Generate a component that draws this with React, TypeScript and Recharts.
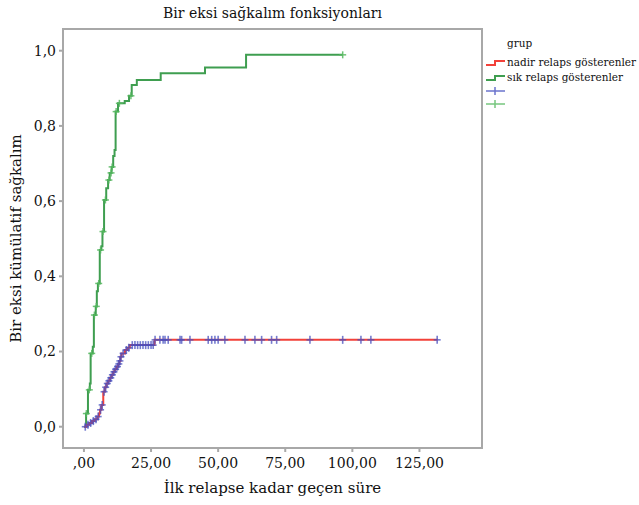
import React from 'react';
import { ComposedChart, Line, Scatter, XAxis, YAxis, ReferenceArea } from 'recharts';

const FONT = '"DejaVu Serif", serif';

// sık relaps gösterenler (green) – 1 - KM cumulative
const sikTimes = [0, 0.8, 1.5, 2.2, 2.5, 3.3, 3.7, 4.4, 4.8, 5.2, 5.9, 6.5, 6.9, 7.5, 8.3, 9.0, 9.6, 10.3, 10.9, 11.4, 11.8, 12.7, 15.2, 16.8, 17.8, 19.7, 28.6, 45.1, 60.4, 96.4];
const sikValues = [0, 0.035, 0.098, 0.115, 0.195, 0.213, 0.297, 0.32, 0.36, 0.381, 0.47, 0.48, 0.519, 0.603, 0.634, 0.656, 0.675, 0.691, 0.72, 0.736, 0.838, 0.86, 0.866, 0.88, 0.909, 0.922, 0.94, 0.955, 0.989, 0.989];
const sikCensorTimes = [0.9, 2.0, 2.9, 3.9, 4.6, 5.5, 6.2, 7.1, 8.0, 9.3, 10.1, 10.5, 12.0, 13.2, 17.5, 96.4];
const sikCensorValues = [0.035, 0.098, 0.195, 0.297, 0.32, 0.381, 0.47, 0.519, 0.603, 0.656, 0.675, 0.691, 0.838, 0.86, 0.88, 0.989];

// nadir relaps gösterenler (red)
const nadirTimes = [0, 1, 2, 3, 4, 5, 5.6, 6, 6.5, 7.2, 7.8, 8.4, 9, 9.7, 10.3, 10.9, 11.5, 12.2, 12.8, 13.2, 13.6, 14, 15.3, 16.2, 17.1, 26.3, 131.8];
const nadirValues = [0, 0.005, 0.01, 0.015, 0.02, 0.027, 0.035, 0.045, 0.058, 0.093, 0.105, 0.115, 0.122, 0.13, 0.138, 0.146, 0.153, 0.16, 0.167, 0.175, 0.186, 0.195, 0.204, 0.21, 0.217, 0.231, 0.231];
const nadirCensorTimes = [0.5, 1.5, 2.5, 3.5, 4.5, 5.3, 6.2, 6.8, 7.5, 8.1, 8.7, 9.3, 10, 10.6, 11.2, 11.8, 12.5, 13, 13.4, 13.8, 14.6, 15.8, 16.7, 18, 19, 20, 21, 22, 23, 24, 25, 25.8,
  26.5, 28.3, 29.5, 30.2, 31.4, 35.8, 36.4, 39.5, 46.3, 47.6, 48.8, 50, 52.5, 60, 63.7, 66.2, 69.9, 71.8, 84.2, 96.4, 103.2, 106.9, 131.6];
const nadirCensorValues = [0, 0.005, 0.01, 0.015, 0.02, 0.027, 0.045, 0.058, 0.093, 0.105, 0.115, 0.122, 0.13, 0.138, 0.146, 0.153, 0.16, 0.167, 0.175, 0.186, 0.195, 0.204, 0.21, 0.217, 0.217, 0.217, 0.217, 0.217, 0.217, 0.217, 0.217, 0.217,
  0.231, 0.231, 0.231, 0.231, 0.231, 0.231, 0.231, 0.231, 0.231, 0.231, 0.231, 0.231, 0.231, 0.231, 0.231, 0.231, 0.231, 0.231, 0.231, 0.231, 0.231, 0.231, 0.231];

const xTicks = [0, 25, 50, 75, 100, 125];
const xTickLabels = [',00', '25,00', '50,00', '75,00', '100,00', '125,00'];
const yTicks = [0, 0.2, 0.4, 0.6, 0.8, 1.0];
const yTickLabels = ['0,0', '0,2', '0,4', '0,6', '0,8', '1,0'];

const title = 'Bir eksi sağkalım fonksiyonları';
const xLabel = 'İlk relapse kadar geçen süre';
const yLabel = 'Bir eksi kümülatif sağkalım';
const legendTitle = 'grup';
const groupNames = ['nadir relaps gösterenler', 'sık relaps gösterenler'];

const X_MIN = -7.8, X_MAX = 148.3, Y_MIN = -0.0566, Y_MAX = 1.0577;

const RED = '#f2413a';
const GREEN = '#3f9e50';
const BLUE = '#4650c0';
const LGREEN = '#55b85f';
const FRAME = '#a8a8a8';

const toPoints = (ts: number[], vs: number[]) => ts.map((t, i) => ({ t, s: vs[i] }));
const sikData = toPoints(sikTimes, sikValues);
const nadirData = toPoints(nadirTimes, nadirValues);
const sikCensor = toPoints(sikCensorTimes, sikCensorValues);
const nadirCensor = toPoints(nadirCensorTimes, nadirCensorValues);

const BluePlus = (p: any) => {
  const { cx, cy } = p;
  if (cx == null || cy == null) return <g />;
  return (
    <g stroke={BLUE} strokeWidth={1.6} opacity={0.75}>
      <line x1={cx - 3.5} x2={cx + 3.5} y1={cy} y2={cy} />
      <line x1={cx} x2={cx} y1={cy - 4} y2={cy + 4} />
    </g>
  );
};

const GreenPlus = (p: any) => {
  const { cx, cy } = p;
  if (cx == null || cy == null) return <g />;
  return (
    <g stroke={LGREEN} strokeWidth={1.5} opacity={0.85}>
      <line x1={cx - 3.5} x2={cx + 3.5} y1={cy} y2={cy} />
      <line x1={cx} x2={cx} y1={cy - 3.5} y2={cy + 3.5} />
    </g>
  );
};

const LegendBox = () => (
  <svg width={156} height={84} style={{ position: 'absolute', left: 483, top: 30, display: 'block', fontFamily: FONT }}>
    <text x={24} y={17} fontSize={10.5} fill="#111">{legendTitle}</text>
    <path d="M3,35 H12 V31 H22" fill="none" stroke={RED} strokeWidth={2} />
    <text x={24} y={36} fontSize={10.5} fill="#111" textLength={129} lengthAdjust="spacingAndGlyphs">{groupNames[0]}</text>
    <path d="M3,50 H12 V46 H22" fill="none" stroke={GREEN} strokeWidth={2} />
    <text x={24} y={51} fontSize={10.5} fill="#111" textLength={116} lengthAdjust="spacingAndGlyphs">{groupNames[1]}</text>
    <g stroke={BLUE} strokeWidth={1.5} opacity={0.8}>
      <line x1={3} x2={22} y1={61} y2={61} />
      <line x1={12} x2={12} y1={57} y2={65} />
    </g>
    <g stroke={LGREEN} strokeWidth={1.5} opacity={0.8}>
      <line x1={3} x2={22} y1={74} y2={74} />
      <line x1={12} x2={12} y1={70} y2={78} />
    </g>
  </svg>
);

export default function App() {
  return (
    <div style={{ position: 'absolute', left: 0, top: 0, width: 639, height: 505, background: '#fff', fontFamily: FONT }}>
      <div style={{ position: 'absolute', left: 63, width: 419, top: 3, textAlign: 'center', fontSize: 14, lineHeight: '20px', color: '#111', fontFamily: FONT }}>
        {title}
      </div>
      <ComposedChart width={639} height={505} margin={{ top: 29, right: 157, bottom: 0, left: 0 }}>
        <XAxis
          dataKey="t"
          type="number"
          domain={[X_MIN, X_MAX]}
          allowDataOverflow
          ticks={xTicks}
          tickFormatter={(v: number) => xTickLabels[xTicks.indexOf(v)] ?? ''}
          axisLine={false}
          tickLine={{ stroke: FRAME, strokeWidth: 2 }}
          tickSize={4}
          tickMargin={6}
          height={57}
          tick={{ fontSize: 14, fill: '#111', fontFamily: FONT }}
          label={{ value: xLabel, position: 'insideBottom', offset: 12, fontSize: 15, fill: '#111', fontFamily: FONT }}
        />
        <YAxis
          type="number"
          domain={[Y_MIN, Y_MAX]}
          allowDataOverflow
          ticks={yTicks}
          tickFormatter={(v: number) => yTickLabels[yTicks.findIndex((k) => Math.abs(k - v) < 1e-9)] ?? ''}
          axisLine={false}
          tickLine={{ stroke: FRAME, strokeWidth: 2 }}
          tickSize={4}
          tickMargin={3}
          width={63}
          tick={{ fontSize: 14, fill: '#111', fontFamily: FONT }}
          label={{ value: yLabel, angle: -90, position: 'insideLeft', offset: 16, fontSize: 15, fill: '#111', fontFamily: FONT, style: { textAnchor: 'middle' } }}
        />
        <ReferenceArea x1={X_MIN} x2={X_MAX} y1={Y_MIN} y2={Y_MAX} fill="none" fillOpacity={0} stroke={FRAME} strokeWidth={2} />
        <Line data={sikData} dataKey="s" type="stepAfter" stroke={GREEN} strokeWidth={2} dot={false} activeDot={false} isAnimationActive={false} />
        <Line data={nadirData} dataKey="s" type="stepAfter" stroke={RED} strokeWidth={2} dot={false} activeDot={false} isAnimationActive={false} />
        <Scatter data={sikCensor} dataKey="s" shape={GreenPlus} isAnimationActive={false} />
        <Scatter data={nadirCensor} dataKey="s" shape={BluePlus} isAnimationActive={false} />
      </ComposedChart>
      <LegendBox />
    </div>
  );
}
